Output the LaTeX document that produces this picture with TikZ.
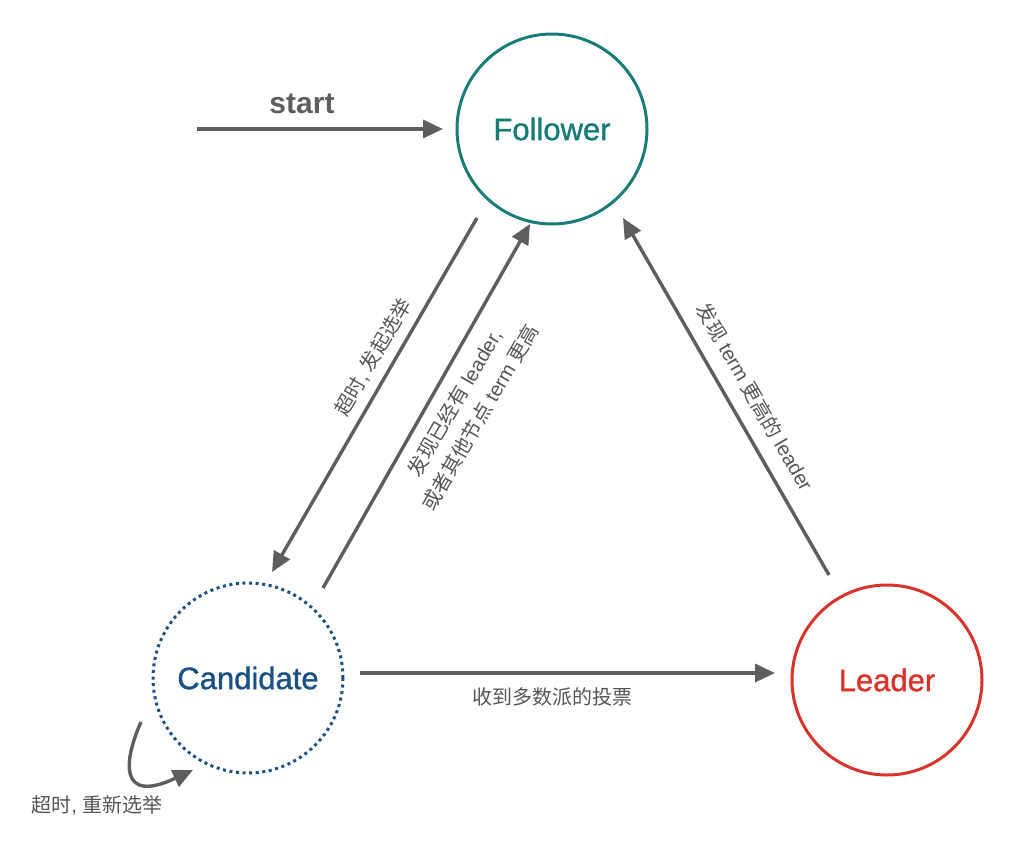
\documentclass[tikz,border=0pt]{standalone}
\usepackage{fontspec}
\setmainfont{Liberation Sans}
\newfontfamily\cjk{Noto Sans CJK SC}
\newfontfamily\medfont[FakeBold=1.2]{Liberation Sans}
\usetikzlibrary{arrows.meta}
\definecolor{arr}{HTML}{5E5E5E}
\definecolor{lbl}{HTML}{555555}
\definecolor{fol}{HTML}{1A7C76}
\definecolor{cand}{HTML}{1A5082}
\definecolor{lead}{HTML}{D8342C}
\begin{document}
\begin{tikzpicture}[x=1pt,y=-1pt,
  state/.style={circle,minimum size=190pt,inner sep=0pt,line width=3pt,font=\fontsize{31}{36}\selectfont\medfont},
  conn/.style={draw=arr,line width=3.4pt,-{Triangle[length=20pt,width=18pt]}},
  lab/.style={text=lbl,font=\fontsize{20}{29}\selectfont,align=center,inner sep=0pt}]
\useasboundingbox (0,0) rectangle (1023,841);
\node[state,draw=fol,text=fol] (F) at (552,129) {Follower};
\node[state,draw=cand,text=cand,dash pattern=on 3pt off 3.6pt] (C) at (248,678) {Candidate};
\node[state,draw=lead,text=lead] (L) at (887,680) {Leader};
% connector end points
\coordinate (s0) at (197,129);
\coordinate (s1) at (443,129);
\coordinate (a1s) at (477,218);
\coordinate (a1e) at (272,572);
\coordinate (a2s) at (323,588);
\coordinate (a2e) at (530,224);
\coordinate (a3s) at (829,575);
\coordinate (a3e) at (623,218);
\coordinate (a4s) at (360,673);
\coordinate (a4e) at (775,673);
\coordinate (lps) at (141,722);
\coordinate (lpe) at (193,770);
\draw[conn] (s0) -- (s1);
\draw[conn] (a1s) -- (a1e);
\draw[conn] (a2s) -- (a2e);
\draw[conn] (a3s) -- (a3e);
\draw[conn] (a4s) -- (a4e);
\draw[conn] (lps) .. controls (124,760) and (118,805) .. (lpe);
% labels
\node[text=arr,font=\fontsize{30}{34}\selectfont\bfseries,inner sep=0pt] (ts) at (302,104) {start};
\node[lab,rotate=59.9] (t1) at (373,357) {{\cjk 超时}, {\cjk 发起选举}};
\node[lab,rotate=59.9] (t2) at (467,410) {{\cjk 发现已经有} leader,\\{\cjk 或者其他节点} term {\cjk 更高}};
\node[lab,rotate=-60] (t3) at (755,397) {{\cjk 发现} term {\cjk 更高的} leader};
\node[lab] (t4) at (552,697) {\cjk 收到多数派的投票};
\node[lab] (t5) at (97,805) {{\cjk 超时}, {\cjk 重新选举}};
\end{tikzpicture}
\end{document}
